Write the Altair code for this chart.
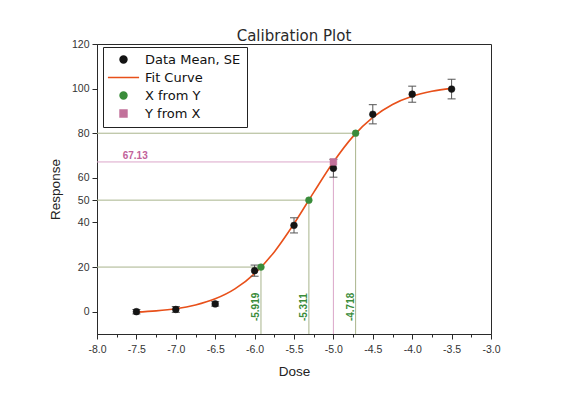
import altair as alt
import pandas as pd

# ---- data ----
dose = [-7.5, -7.0, -6.5, -6.0, -5.5, -5.0, -4.5, -4.0, -3.5]
resp_mean = [0.0, 1.0, 3.5, 18.4, 38.7, 64.3, 88.5, 97.5, 99.8]
resp_se = [1.0, 1.3, 1.0, 2.5, 3.4, 4.0, 4.3, 3.6, 4.4]

fit_dose = [-7.5, -7.25, -7.0, -6.75, -6.5, -6.25, -6.0, -5.75, -5.5,
            -5.25, -5.0, -4.75, -4.5, -4.25, -4.0, -3.75, -3.5]
fit_resp = [-0.2, 0.35, 1.3, 3.0, 5.75, 10.2, 17.1, 26.8, 39.4,
            53.5, 67.1, 78.6, 87.1, 92.9, 96.6, 98.8, 100.1]

xfy_resp = [20, 50, 80]
xfy_dose = [-5.919, -5.311, -4.718]
yfx_dose = [-5.0]
yfx_resp = [67.13]

x_major = [-8.0, -7.5, -7.0, -6.5, -6.0, -5.5, -5.0, -4.5, -4.0, -3.5, -3.0]
x_minor = [-7.75, -7.25, -6.75, -6.25, -5.75, -5.25, -4.75, -4.25, -3.75, -3.25]
y_ticks = [0, 20, 40, 50, 60, 80, 100, 120]
x_domain = [-8.0, -3.0]
y_domain = [-10, 120]

SERIES = ["Data Mean, SE", "Fit Curve", "X from Y", "Y from X"]
SER_COLORS = ["#141414", "#e8501a", "#3a8c3a", "#c2719b"]
SER_SHAPES = ["circle", "M-4.5,0H4.5", "circle", "square"]

GREEN_REF = "#a9b48c"
PINK_REF = "#dba6c9"
GREEN_TXT = "#3a8c3a"
PINK_TXT = "#c2619a"

# ---- tables ----
means = pd.DataFrame({"dose": dose, "resp": resp_mean, "se": resp_se})
means["lo"] = means["resp"] - means["se"]
means["hi"] = means["resp"] + means["se"]

fit = pd.DataFrame({"dose": fit_dose, "resp": fit_resp})

pts = pd.concat([
    pd.DataFrame({"dose": dose, "resp": resp_mean, "series": SERIES[0]}),
    pd.DataFrame({"dose": xfy_dose, "resp": xfy_resp, "series": SERIES[2]}),
    pd.DataFrame({"dose": yfx_dose, "resp": yfx_resp, "series": SERIES[3]}),
], ignore_index=True)

refs = []
for xv, yv in zip(xfy_dose, xfy_resp):
    refs.append({"x1": x_domain[0], "x2": xv, "y1": yv, "y2": yv, "c": GREEN_REF})
    refs.append({"x1": xv, "x2": xv, "y1": y_domain[0], "y2": yv, "c": GREEN_REF})
for xv, yv in zip(yfx_dose, yfx_resp):
    refs.append({"x1": x_domain[0], "x2": xv, "y1": yv, "y2": yv, "c": PINK_REF})
    refs.append({"x1": xv, "x2": xv, "y1": y_domain[0], "y2": yv, "c": PINK_REF})
refs = pd.DataFrame(refs)

vlab = pd.DataFrame({"dose": xfy_dose, "y": [-4.2] * len(xfy_dose),
                     "txt": [f"{v:.3f}" for v in xfy_dose]})
hlab = pd.DataFrame({"dose": [-7.674], "resp": yfx_resp,
                     "txt": [f"{v:.2f}" for v in yfx_resp]})

# ---- scales / axes ----
xs = alt.Scale(domain=x_domain, nice=False, zero=False)
ys = alt.Scale(domain=y_domain, nice=False, zero=False)
is_major = "abs(datum.value*2 - round(datum.value*2)) < 0.001"
xaxis = alt.Axis(
    values=sorted(x_major + x_minor),
    labelExpr=f"{is_major} ? replace(format(datum.value, '.1f'), '\u2212', '-') : ''",
    tickSize={"condition": {"test": is_major, "value": 5}, "value": 3},
    labelOverlap=False, labelFlush=False, labelPadding=5, titlePadding=10, grid=False,
)
yaxis = alt.Axis(values=y_ticks, tickSize=5, labelPadding=3, titlePadding=9,
                 grid=False, labelOverlap=False, labelFlush=False)


def X(field, **kw):
    return alt.X(field, type="quantitative", scale=xs, axis=xaxis, title="Dose", **kw)


def Y(field, **kw):
    return alt.Y(field, type="quantitative", scale=ys, axis=yaxis, title="Response", **kw)


legend = alt.Legend(
    title=None, orient="none", legendX=6, legendY=3,
    strokeColor="#222222", fillColor="white", padding=6,
    symbolOffset=8, labelOffset=15, labelFont="DejaVu Sans", labelFontSize=13,
    labelColor="#111111", symbolSize=48, symbolStrokeWidth=1.5, rowPadding=4,
    labelLimit=300,
)

ref_layer = alt.Chart(refs).mark_rule(strokeWidth=1).encode(
    x=X("x1"), x2="x2", y=Y("y1"), y2="y2",
    color=alt.Color("c:N", scale=None),
)

fit_layer = alt.Chart(fit).mark_line(color=SER_COLORS[1], strokeWidth=1.6,
                                     interpolate="monotone").encode(
    x=X("dose"), y=Y("resp"),
)

err_layer = alt.Chart(means).mark_rule(color="#555555", strokeWidth=1).encode(
    x=X("dose"), y=Y("lo"), y2="hi",
)

cap_layer = alt.Chart(means).transform_fold(["lo", "hi"], as_=["k", "v"]).mark_tick(
    orient="horizontal", size=8, thickness=1, color="#555555", opacity=1
).encode(x=X("dose"), y=Y("v"))

pt_layer = alt.Chart(pts).mark_point(filled=True, size=46, opacity=1,
                                     strokeWidth=0.5).encode(
    x=X("dose"), y=Y("resp"),
    color=alt.Color("series:N", scale=alt.Scale(domain=SERIES, range=SER_COLORS), legend=legend),
    stroke=alt.Stroke("series:N", scale=alt.Scale(domain=SERIES, range=SER_COLORS), legend=legend),
    shape=alt.Shape("series:N", scale=alt.Scale(domain=SERIES, range=SER_SHAPES), legend=legend),
)

vlab_layer = alt.Chart(vlab).mark_text(
    angle=270, align="left", baseline="bottom", font="Liberation Sans",
    fontSize=10, fontWeight="bold", color=GREEN_TXT,
).encode(x=X("dose"), y=Y("y"), text="txt:N")

hlab_layer = alt.Chart(hlab).mark_text(
    align="left", baseline="alphabetic", dy=-3, font="Liberation Sans",
    fontSize=10, fontWeight="bold", color=PINK_TXT,
).encode(x=X("dose"), y=Y("resp"), text="txt:N")

chart = alt.layer(
    ref_layer, fit_layer, err_layer, cap_layer, pt_layer, vlab_layer, hlab_layer
).properties(
    width=394, height=290,
    title=alt.TitleParams("Calibration Plot", font="DejaVu Sans", fontSize=15,
                          fontWeight="normal", color="#2a2a2a", anchor="middle",
                          frame="group", offset=-5),
    padding={"left": 89, "top": 36, "right": 69, "bottom": 60},
    autosize=alt.AutoSizeParams(type="none"),
    background="white",
).configure_view(
    stroke="#2a2a2a", strokeWidth=1
).configure_axis(
    domainColor="#2a2a2a", tickColor="#2a2a2a", labelColor="#333333",
    labelFont="Liberation Sans", labelFontSize=10.5,
    titleFont="Liberation Sans", titleFontSize=13.5, titleFontWeight="normal",
    titleColor="#222222",
)

chart.save("out.html", embed_options={"renderer": "svg", "actions": False})
